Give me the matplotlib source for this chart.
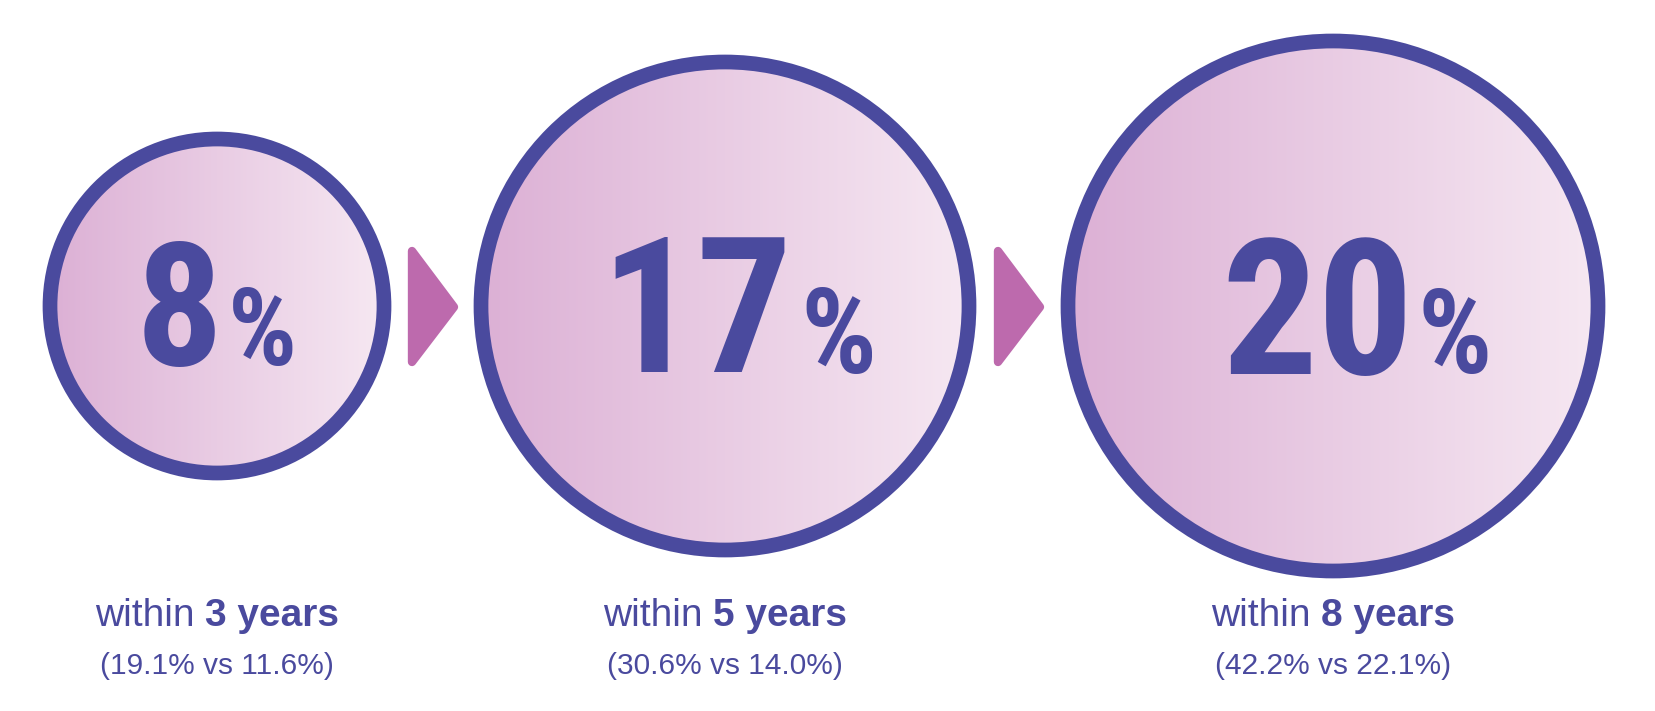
import numpy as np
import matplotlib.pyplot as plt
from matplotlib.patches import Circle, Polygon
from matplotlib.offsetbox import TextArea, HPacker, AnnotationBbox
from matplotlib.colors import LinearSegmentedColormap

# data
values = [8, 17, 20]
years = [3, 5, 8]
rate_treated = [19.1, 30.6, 42.2]
rate_control = [11.6, 14.0, 22.1]

# layout in pixel units
W, H = 1656, 711
centers_x = [217, 725, 1333]
center_y = 306
radii = [167, 244, 265]
num_right = [223, 793, 1414]
num_base = [365, 372, 374]
num_size = [124, 137, 137]
pct_left = [228, 800, 1418]
pct_base = [365, 373, 373]
pct_size = [78, 86, 84]
arrows_x = [408, 994]

navy = '#4a4a9e'
pink = '#bd6aad'
grad = LinearSegmentedColormap.from_list('g', ['#dcb0d5', '#f6e8f2'])
big_font = ['Roboto Condensed', 'Liberation Sans', 'DejaVu Sans']
small_font = ['Liberation Sans', 'DejaVu Sans']

fig = plt.figure(figsize=(W / 100, H / 100), dpi=100)
ax = fig.add_axes([0, 0, 1, 1])
ax.set_xlim(0, W)
ax.set_ylim(H, 0)
ax.set_aspect('equal')
ax.axis('off')

ramp = np.linspace(0, 1, 256).reshape(1, -1)

for i, v in enumerate(values):
    cx, r = centers_x[i], radii[i]
    # gradient fill clipped to circle
    clip = Circle((cx, center_y), r, transform=ax.transData)
    im = ax.imshow(ramp, cmap=grad, aspect='auto',
                   extent=[cx - r, cx + r, center_y + r, center_y - r], zorder=1)
    im.set_clip_path(clip)
    ax.add_patch(Circle((cx, center_y), r, fill=False, ec=navy, lw=10.6, zorder=2))

    ax.text(num_right[i], num_base[i], str(v), ha='right', va='baseline',
            fontsize=num_size[i], fontweight='bold', color=navy, family=big_font, zorder=3)
    ax.text(pct_left[i], pct_base[i], '%', ha='left', va='baseline',
            fontsize=pct_size[i], fontweight='bold', color=navy, family=big_font, zorder=3)

    # labels under the circles
    t1 = TextArea('within', textprops=dict(fontsize=28, color=navy, family=small_font))
    t2 = TextArea(f'{years[i]} years', textprops=dict(fontsize=28, color=navy,
                                                       fontweight='bold', family=small_font))
    box = HPacker(children=[t1, t2], sep=7, align='baseline', pad=0)
    ab = AnnotationBbox(box, (cx, 616), xycoords='data', box_alignment=(0.5, 0.5),
                        frameon=False, pad=0)
    ax.add_artist(ab)
    ax.text(cx, 674, f'({rate_treated[i]:.1f}% vs {rate_control[i]:.1f}%)',
            ha='center', va='baseline', fontsize=21.5, color=navy, family=small_font)

# arrows between circles
for x0 in arrows_x:
    tri = Polygon([(x0 + 4, 251), (x0 + 46, 307), (x0 + 4, 362)], closed=True,
                  fc=pink, ec=pink, lw=6, joinstyle='round', zorder=2)
    ax.add_patch(tri)

fig.savefig('out.png', dpi=100, facecolor='white')
